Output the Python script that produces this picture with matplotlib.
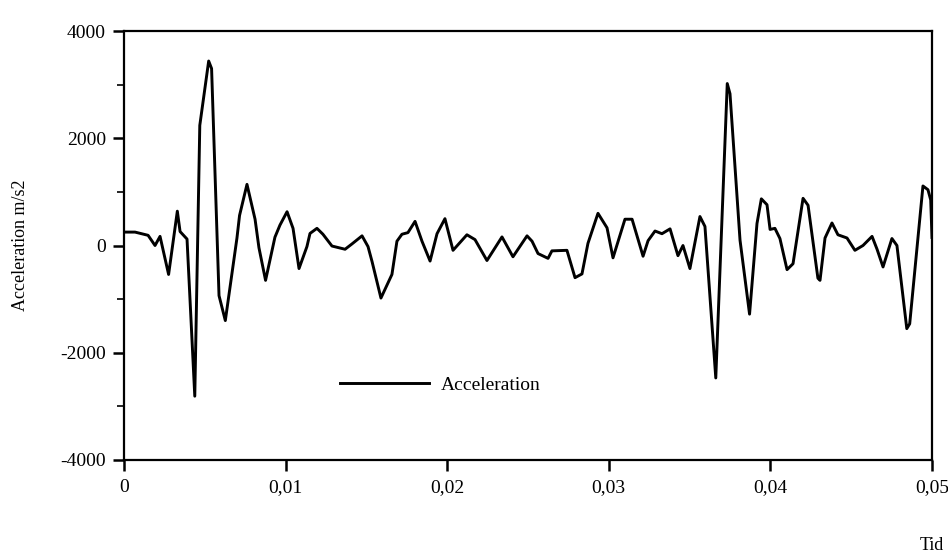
import matplotlib
matplotlib.use("Agg")
import matplotlib.pyplot as plt
from matplotlib.ticker import MultipleLocator, FuncFormatter

# Time (s) and acceleration (m/s2)
tid = [0.00000, 0.00068, 0.00149, 0.00192, 0.00223, 0.00276, 0.00330, 0.00347,
       0.00390, 0.00438, 0.00469, 0.00524, 0.00542, 0.00588, 0.00627, 0.00699,
       0.00715, 0.00761, 0.00811, 0.00835, 0.00876, 0.00934, 0.00965, 0.01009,
       0.01046, 0.01083, 0.01132, 0.01151, 0.01194, 0.01231, 0.01287, 0.01368,
       0.01411, 0.01473, 0.01510, 0.01535, 0.01590, 0.01658, 0.01689, 0.01720,
       0.01757, 0.01801, 0.01844, 0.01894, 0.01937, 0.01986, 0.02036, 0.02122,
       0.02172, 0.02246, 0.02339, 0.02407, 0.02494, 0.02525, 0.02562, 0.02624,
       0.02648, 0.02741, 0.02791, 0.02834, 0.02871, 0.02933, 0.02989, 0.03026,
       0.03100, 0.03144, 0.03212, 0.03243, 0.03286, 0.03329, 0.03379, 0.03428,
       0.03459, 0.03502, 0.03564, 0.03595, 0.03662, 0.03733, 0.03750, 0.03812,
       0.03871, 0.03917, 0.03944, 0.03979, 0.03998, 0.04028, 0.04059, 0.04103,
       0.04140, 0.04202, 0.04233, 0.04294, 0.04307, 0.04338, 0.04381, 0.04418,
       0.04474, 0.04523, 0.04573, 0.04629, 0.04660, 0.04697, 0.04752, 0.04783,
       0.04844, 0.04862, 0.04944, 0.04975, 0.04992, 0.05000]
acceleration = [250, 250, 190, 0, 170, -540, 640, 260,
                120, -2810, 2240, 3440, 3300, -935, -1400, 140,
                560, 1140, 490, -40, -650, 155, 380, 630,
                320, -430, -20, 225, 320, 210, -10, -70,
                30, 180, -20, -300, -980, -540, 80, 210,
                240, 450, 80, -290, 220, 500, -90, 200,
                110, -280, 160, -210, 180, 80, -150, -240,
                -100, -90, -600, -530, 40, 600, 330, -230,
                490, 490, -200, 90, 270, 220, 310, -190,
                0, -430, 540, 355, -2470, 3020, 2830, 100,
                -1280, 410, 870, 760, 300, 320, 130, -450,
                -340, 880, 750, -610, -650, 140, 420, 200,
                140, -90, 0, 170, -70, -400, 130, 0,
                -1550, -1460, 1110, 1040, 850, 150]

x_ticks = [0, 0.01, 0.02, 0.03, 0.04, 0.05]
y_ticks = [-4000, -2000, 0, 2000, 4000]
series_label = "Acceleration"
x_label = "Tid"
y_label = "Acceleration m/s2"

plt.rcParams['font.family'] = ['Liberation Serif', 'DejaVu Serif']

fig = plt.figure(figsize=(9.48, 5.58), dpi=100)
ax = fig.add_axes([124 / 948, 1 - 460 / 558, 808 / 948, 429 / 558])

ax.plot(tid, acceleration, color='black', linewidth=2.1, label=series_label,
        solid_joinstyle='round')

ax.set_xlim(0, 0.05)
ax.set_ylim(-4000, 4000)
ax.set_xticks(x_ticks)
ax.set_yticks(y_ticks)
ax.yaxis.set_minor_locator(MultipleLocator(1000))


def fmt_x(v, pos):
    if abs(v) < 1e-12:
        return "0"
    return ("%.2f" % v).replace('.', ',')


ax.xaxis.set_major_formatter(FuncFormatter(fmt_x))
ax.yaxis.set_major_formatter(FuncFormatter(lambda v, p: "%d" % v))

for s in ax.spines.values():
    s.set_linewidth(1.6)
    s.set_color('black')

ax.tick_params(axis='both', which='major', direction='out', length=8, width=1.8,
               labelsize=14, colors='black')
ax.tick_params(axis='x', which='major', pad=6)
ax.tick_params(axis='y', which='major', pad=5)
ax.tick_params(axis='y', which='minor', direction='out', length=5, width=1.2)

ax.set_ylabel(y_label, fontsize=13)
ax.yaxis.set_label_coords(-0.118, 0.5)
fig.text(932 / 948, 1 - 545 / 558, x_label, fontsize=13, ha='center', va='center')

leg = ax.legend(frameon=False, loc='center left',
                bbox_to_anchor=((340 - 124) / 808, (460 - 385) / 429),
                handlelength=4.6, handletextpad=0.6, borderpad=0,
                borderaxespad=0, fontsize=14)

fig.savefig("out.png", dpi=100, facecolor='white')
